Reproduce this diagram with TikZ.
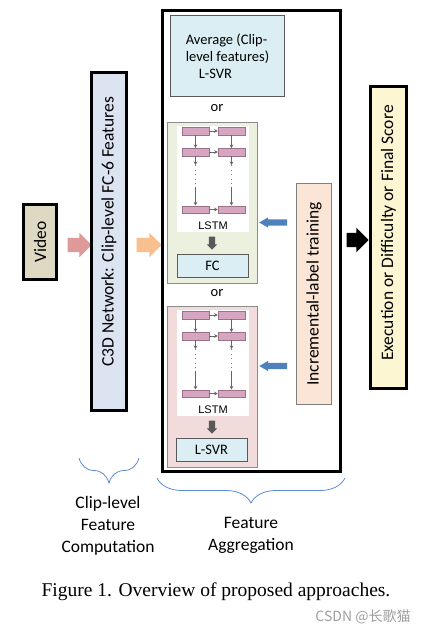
\documentclass[tikz,border=0pt]{standalone}
\usepackage{fontspec}
\setmainfont{Carlito}
\newfontfamily\captionfont{Liberation Serif}
\newfontfamily\lstmfont{Liberation Sans}
\newfontfamily\cjkfont{Noto Sans CJK SC}
\usetikzlibrary{shapes.arrows,decorations.pathreplacing,arrows.meta}
\definecolor{videofill}{HTML}{DDD9C3}
\definecolor{c3dfill}{HTML}{DCE3F1}
\definecolor{svrfill}{HTML}{DAEEF3}
\definecolor{greenfill}{HTML}{EBF1DE}
\definecolor{pinkfill}{HTML}{F2DCDB}
\definecolor{peachfill}{HTML}{FBE5D6}
\definecolor{scorefill}{HTML}{FDF6D3}
\definecolor{cellfill}{HTML}{D6A5C0}
\definecolor{cellline}{HTML}{9C7288}
\definecolor{redarrow}{HTML}{DE9A9A}
\definecolor{orangearrow}{HTML}{F9BF8F}
\definecolor{bluearrow}{HTML}{4F81BD}
\definecolor{bracecol}{HTML}{5B8BD0}

\begin{document}
\begin{tikzpicture}[x=1pt, y=-1pt,
    thickbox/.style={draw=black, line width=3pt, inner sep=0pt},
    thinbox/.style={draw=black!65, line width=0.8pt, inner sep=0pt},
    cell/.style={draw=cellline, fill=cellfill, line width=0.5pt, minimum width=27pt, minimum height=7.5pt, inner sep=0pt},
    lstmarrow/.style={draw=black!60, line width=0.7pt, -{Stealth[length=3.5pt, width=3.5pt]}},
    dotline/.style={draw=black!50, line width=0.6pt, dash pattern=on 0.6pt off 4pt},
    blockarrow/.style={single arrow, inner xsep=0pt, minimum height=#1},
    bigfont/.style={font=\fontsize{17.5}{22}\selectfont},
    boxfont/.style={font=\fontsize{14.5}{17}\selectfont},
    curly/.style={draw=bracecol, line width=0.8pt, decorate, decoration={brace, mirror, amplitude=25pt}}
]
\useasboundingbox (0,0) rectangle (428,634);

% Clip-level features
\node[thickbox, fill=videofill, rotate=90, minimum width=75pt, minimum height=33pt, bigfont] (video) at (40,242) {Video};
\node[blockarrow=24pt, fill=redarrow, inner ysep=7pt, single arrow head extend=5pt] (arrowA) at (76,245) {};
\node[thickbox, fill=c3dfill, rotate=90, minimum width=338pt, minimum height=35pt, bigfont] (c3d) at (109,241.5) {\hspace*{20pt}C3D Network: Clip-level FC-6 Features};
\node[blockarrow=25pt, fill=orangearrow, inner ysep=7pt, single arrow head extend=5pt] (arrowB) at (145.5,245) {};

% Feature aggregation
\node[thickbox, minimum width=178pt, minimum height=461pt] (aggr) at (251.5,241) {};
\node[thinbox, fill=svrfill, minimum width=114pt, minimum height=81pt, boxfont, align=left] (avg) at (227.5,56) {Average (Clip-\\level features)\\\hspace*{13pt}L-SVR};
\node[boxfont] (orA) at (217,108) {or};

% LSTM + FC
\node[thinbox, draw=black!45, fill=greenfill, minimum width=90pt, minimum height=161pt] (lstmA) at (212,202.5) {};
\node[fill=white, minimum width=72pt, minimum height=106pt, inner sep=0pt] (panelA) at (213,179) {};
\node[cell] (gA1) at (195.5,131) {};
\node[cell] (gB1) at (231.5,131) {};
\node[cell] (gA2) at (195.5,152) {};
\node[cell] (gB2) at (231.5,152) {};
\node[cell] (gA3) at (195.5,209.5) {};
\node[cell] (gB3) at (231.5,209.5) {};
\coordinate (gA4) at (195.5,165);
\coordinate (gA5) at (195.5,187);
\coordinate (gB4) at (231.5,165);
\coordinate (gB5) at (231.5,187);
\draw[lstmarrow] (gA1) -- (gB1);
\draw[lstmarrow] (gA2) -- (gB2);
\draw[lstmarrow] (gA3) -- (gB3);
\draw[lstmarrow] (gA1) -- (gA2);
\draw[lstmarrow] (gB1) -- (gB2);
\draw[lstmarrow] (gA2) -- (gA4);
\draw[lstmarrow] (gB2) -- (gB4);
\draw[dotline] (gA4) -- (gA5);
\draw[dotline] (gB4) -- (gB5);
\draw[lstmarrow] (gA5) -- (gA3);
\draw[lstmarrow] (gB5) -- (gB3);
\node[font=\lstmfont\fontsize{11}{13}\selectfont] (labelA) at (213,226) {LSTM};
\node[blockarrow=13pt, fill=black!65, inner ysep=3pt, single arrow head extend=2pt, rotate=-90] (downA) at (212,241.5) {};
\node[thinbox, fill=svrfill, minimum width=71pt, minimum height=23pt, boxfont] (fc) at (212.5,265.5) {FC};
\node[boxfont] (orB) at (217,293) {or};

% LSTM + L-SVR
\node[thinbox, draw=black!45, fill=pinkfill, minimum width=90pt, minimum height=161pt] (lstmB) at (212,386.5) {};
\node[fill=white, minimum width=72pt, minimum height=106pt, inner sep=0pt] (panelB) at (213,363) {};
\node[cell] (pA1) at (195.5,315) {};
\node[cell] (pB1) at (231.5,315) {};
\node[cell] (pA2) at (195.5,336) {};
\node[cell] (pB2) at (231.5,336) {};
\node[cell] (pA3) at (195.5,393.5) {};
\node[cell] (pB3) at (231.5,393.5) {};
\coordinate (pA4) at (195.5,349);
\coordinate (pA5) at (195.5,371);
\coordinate (pB4) at (231.5,349);
\coordinate (pB5) at (231.5,371);
\draw[lstmarrow] (pA1) -- (pB1);
\draw[lstmarrow] (pA2) -- (pB2);
\draw[lstmarrow] (pA3) -- (pB3);
\draw[lstmarrow] (pA1) -- (pA2);
\draw[lstmarrow] (pB1) -- (pB2);
\draw[lstmarrow] (pA2) -- (pA4);
\draw[lstmarrow] (pB2) -- (pB4);
\draw[dotline] (pA4) -- (pA5);
\draw[dotline] (pB4) -- (pB5);
\draw[lstmarrow] (pA5) -- (pA3);
\draw[lstmarrow] (pB5) -- (pB3);
\node[font=\lstmfont\fontsize{11}{13}\selectfont] (labelB) at (213,410) {LSTM};
\node[blockarrow=13pt, fill=black!65, inner ysep=3pt, single arrow head extend=2pt, rotate=-90] (downB) at (212,425.5) {};
\node[thinbox, fill=svrfill, minimum width=71pt, minimum height=23pt, boxfont] (svr) at (211.5,450) {L-SVR};

% Incremental-label training
\node[thinbox, draw=black!50, fill=peachfill, rotate=90, minimum width=221pt, minimum height=35pt, bigfont] (incr) at (314,294) {Incremental-label training};
\node[blockarrow=28pt, fill=bluearrow, inner ysep=3pt, single arrow head extend=2pt, single arrow tip angle=60, rotate=180] (feedA) at (276,222.5) {};
\node[blockarrow=28pt, fill=bluearrow, inner ysep=3pt, single arrow head extend=2pt, single arrow tip angle=60, rotate=180] (feedB) at (276,366) {};

% Output
\node[blockarrow=22pt, fill=black, inner ysep=7pt, single arrow head extend=5pt] (outarrow) at (354,240) {};
\node[thickbox, fill=scorefill, rotate=90, minimum width=302pt, minimum height=36pt, bigfont] (score) at (388.5,237.5) {\hspace*{9pt}Execution or Difficulty or Final Score};

% Braces and labels
\coordinate (clipL) at (79,458);
\coordinate (clipR) at (139,458);
\draw[curly] (clipL) -- (clipR);
\coordinate (aggrL) at (157,478);
\coordinate (aggrR) at (345,478);
\draw[curly] (aggrL) -- (aggrR);
\node[bigfont, align=center] (cliplabel) at (108,526) {Clip-level\\Feature\\Computation};
\node[bigfont, align=center] (aggrlabel) at (251,535) {Feature\\Aggregation};

% Caption
\node[font=\captionfont\fontsize{19.5}{23}\selectfont] (caption) at (216,592) {Figure 1. Overview of proposed approaches.};
\node[font=\cjkfont\fontsize{14}{16}\selectfont, text=black!38] (mark) at (363,617) {CSDN @长歌猫};
\end{tikzpicture}
\end{document}
